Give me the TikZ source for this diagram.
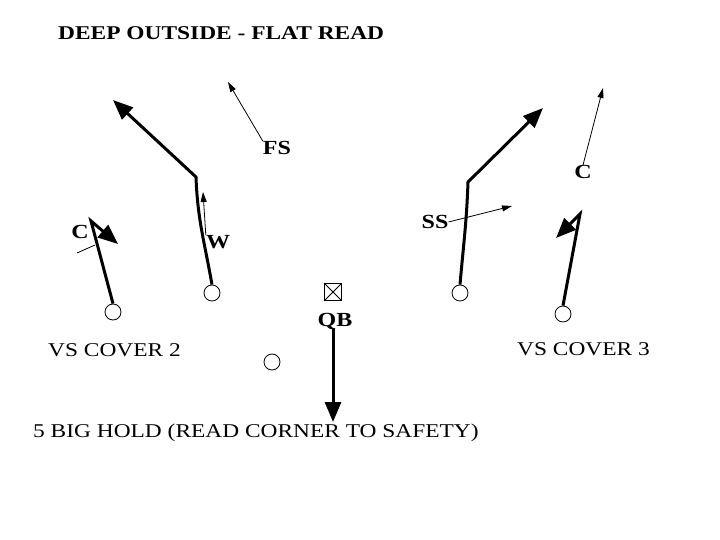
\documentclass[tikz,border=0pt]{standalone}
\usepackage{fontspec}
\setmainfont[FakeStretch=1.2]{Liberation Serif}
\usetikzlibrary{arrows.meta,calc}

\tikzset{
 player/.style={circle,draw,minimum size=16pt,inner sep=0pt,line width=0.8pt},
 route/.style={line width=3pt,-{Triangle[length=20pt,width=16pt]}},
 readarrow/.style={line width=0.8pt,-{Triangle[length=10pt,width=6pt]}},
 lbl/.style={inner sep=0pt,font=\bfseries\fontsize{20}{20}\selectfont},
 caption/.style={inner sep=0pt,anchor=west,font=\fontsize{19.5}{19.5}\selectfont}
}

\begin{document}
\begin{tikzpicture}[x=1pt,y=-1pt]
 \useasboundingbox (0,0) rectangle (720,540);
 \node[inner sep=0pt,anchor=west,font=\bfseries\fontsize{19.5}{19.5}\selectfont] (title) at (58,33) {DEEP OUTSIDE - FLAT READ};
 % players
 \node[player] (cl) at (113,312) {};
 \node[player] (wr) at (212,293) {};
 \node[player] (ss) at (460,293) {};
 \node[player] (cr) at (563,314) {};
 \node[player] (rb) at (272,362) {};
 \node[draw,line width=0.8pt,minimum size=17pt,inner sep=0pt] (qb) at (333,292) {};
 \draw[line width=0.8pt] (qb.north west) -- (qb.south east);
 \draw[line width=0.8pt] (qb.north east) -- (qb.south west);
 % labels
 \node[lbl] (qbl) at (335,321) {QB};
 \node[lbl] (fs) at (277,148) {FS};
 \node[lbl] (w) at (218,242) {W};
 \node[lbl] (sl) at (435,222) {SS};
 \node[lbl] (c1) at (80,232) {C};
 \node[lbl] (c2) at (583,172) {C};
 % routes
 \coordinate (b1) at (91,221);
 \coordinate (e1) at (118,244);
 \draw[route] (cl.north) -- (b1) -- (e1);
 \coordinate (b2) at (196,177);
 \coordinate (e2) at (113,100);
 \draw[route] (wr.north) to[out=100,in=-88] (b2) -- (e2);
 \coordinate (b3) at (468,182);
 \coordinate (e3) at (543,108);
 \draw[route] (ss.north) to[out=85,in=-92] (b3) -- (e3);
 \coordinate (b4) at (580,214);
 \coordinate (e4) at (556,238);
 \draw[route] (cr.north) -- (b4) -- (e4);
 \coordinate (e5) at (333,422);
 \draw[route] (qbl.south -| e5) -- (e5);
 % defender reads
 \coordinate (f1) at (228,82);
 \draw[readarrow] (fs.north west) -- (f1);
 \coordinate (f2) at (203,192);
 \draw[readarrow] (w.north west) -- (f2);
 \coordinate (f3) at (512,206);
 \draw[readarrow] (sl.east) -- (f3);
 \coordinate (f4) at (603,88);
 \draw[readarrow] (c2.north) -- (f4);
 \coordinate (t1) at (77,253);
 \coordinate (t2) at (95,245);
 \draw[line width=0.8pt] (t1) -- (t2);
 % captions
 \node[caption] (vs2) at (48,350) {VS COVER 2};
 \node[caption] (vs3) at (517,349) {VS COVER 3};
 \node[caption] (hold) at (33,433) {5 BIG HOLD (READ CORNER TO SAFETY)};
\end{tikzpicture}
\end{document}
